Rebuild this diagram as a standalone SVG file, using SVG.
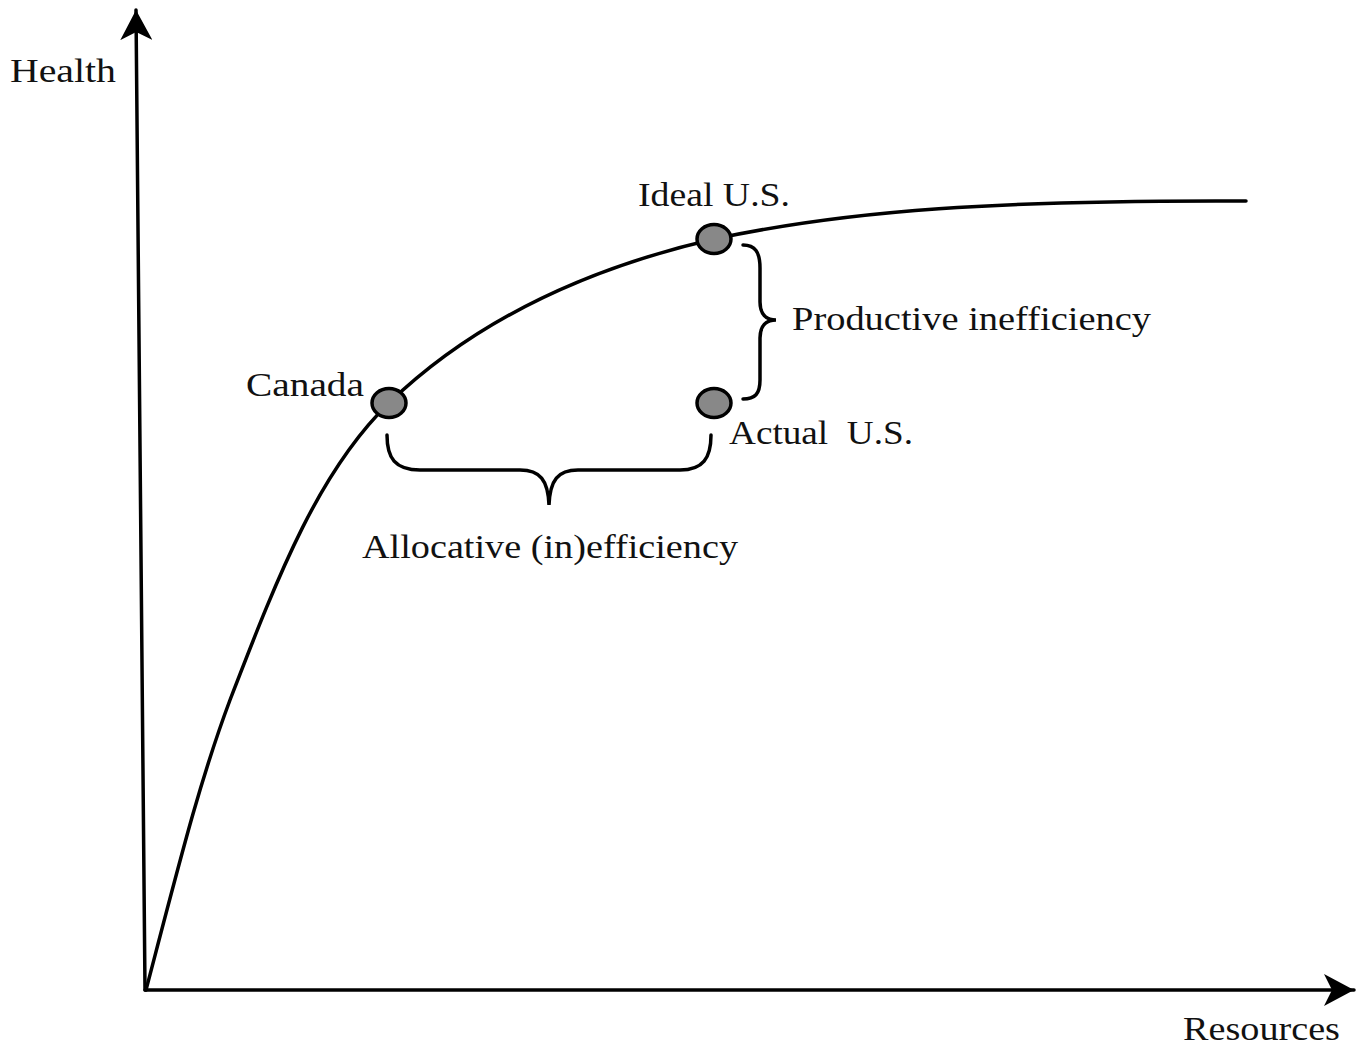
<svg xmlns="http://www.w3.org/2000/svg" width="1362" height="1049" viewBox="0 0 1362 1049">
<defs>
<style>
.t{font-family:"Liberation Serif","DejaVu Serif",serif;font-size:34px;fill:#111}
.ln{fill:none;stroke:#000;stroke-width:3.5;stroke-linecap:round}
.pt{fill:#888;stroke:#000;stroke-width:3.5}
</style>
<marker id="ah" viewBox="0 0 32 32" markerWidth="32" markerHeight="32" refX="30" refY="16" orient="auto" markerUnits="userSpaceOnUse">
<path d="M0,0 L30,16 L0,32 L8,16 Z" fill="#000"/>
</marker>
</defs>
<rect width="1362" height="1049" fill="#fff"/>
<g id="connectors">
<path class="ln" d="M145,990 L136,10" marker-end="url(#ah)"/>
<path class="ln" d="M145,990 L1354,990" marker-end="url(#ah)"/>
<path class="ln" d="M146,990 C180,860 200,780 230,700 C280,570 320,470 389,403 C470,325 580,270 714,239 C850,210 1000,200 1246,201"/>
<path class="ln" d="M387,435 C387,458 395,470 420,470 L520,470 C540,470 548,480 549,505 C550,480 558,470 578,470 L680,470 C703,470 711,458 711,435"/>
<path class="ln" d="M743,245 C755,245 760,252 760,268 L760,302 C760,314 766,320 776,320 C766,320 760,326 760,338 L760,380 C760,394 755,399 743,399"/>
</g>
<g id="canada"><ellipse class="pt" cx="389" cy="403" rx="17" ry="14.5"/><text class="t" x="246" y="396" textLength="118" lengthAdjust="spacingAndGlyphs">Canada</text></g>
<g id="ideal"><ellipse class="pt" cx="714" cy="239" rx="17" ry="14.5"/><text class="t" x="638" y="206" textLength="152" lengthAdjust="spacingAndGlyphs">Ideal U.S.</text></g>
<g id="actual"><ellipse class="pt" cx="714" cy="403" rx="17" ry="14.5"/><text class="t" x="729" y="444" textLength="184" lengthAdjust="spacingAndGlyphs" xml:space="preserve">Actual  U.S.</text></g>
<g id="labels">
<text class="t" x="10" y="82" textLength="106" lengthAdjust="spacingAndGlyphs">Health</text>
<text class="t" x="1183" y="1040" textLength="157" lengthAdjust="spacingAndGlyphs">Resources</text>
<text class="t" x="792" y="330" textLength="359" lengthAdjust="spacingAndGlyphs">Productive inefficiency</text>
<text class="t" x="362" y="558" textLength="376" lengthAdjust="spacingAndGlyphs">Allocative (in)efficiency</text>
</g>
</svg>
